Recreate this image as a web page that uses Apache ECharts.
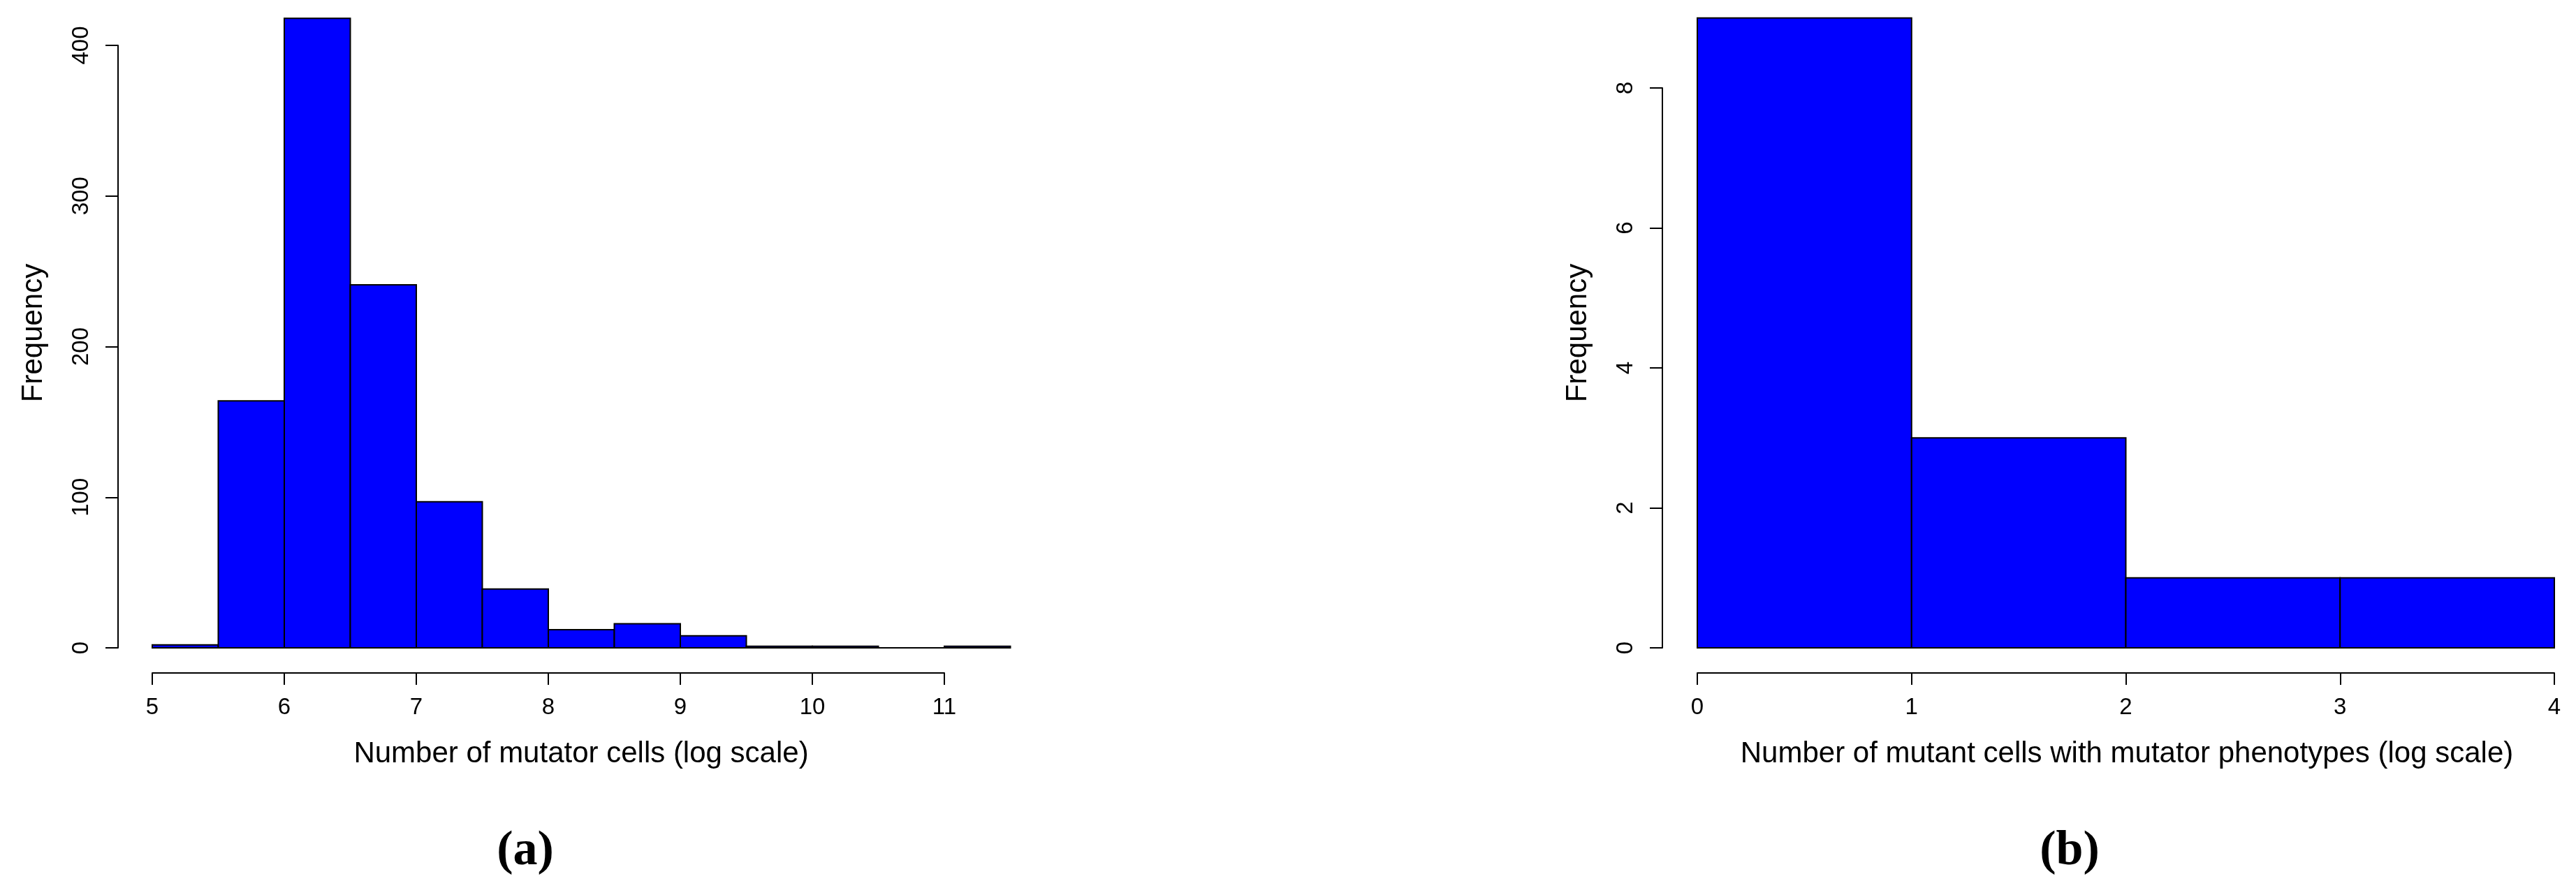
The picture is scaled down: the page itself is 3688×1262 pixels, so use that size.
<!DOCTYPE html>
<html>
<head>
<meta charset="utf-8">
<script src="https://cdn.jsdelivr.net/npm/echarts@6/dist/echarts.min.js"></script>
<style>
html,body{margin:0;padding:0;background:#fff;}
#chart{width:3688px;height:1262px;}
</style>
</head>
<body>
<div id="chart"></div>
<script>
// ---- data ----
var leftBinEdges = [5, 5.5, 6, 6.5, 7, 7.5, 8, 8.5, 9, 9.5, 10, 10.5, 11, 11.5];
var leftCounts = [2, 164, 418, 241, 97, 39, 12, 16, 8, 1, 1, 0, 1];
var leftXTicks = [5, 6, 7, 8, 9, 10, 11];
var leftYTicks = [0, 100, 200, 300, 400];

var rightBinEdges = [0, 1, 2, 3, 4];
var rightCounts = [9, 3, 1, 1];
var rightXTicks = [0, 1, 2, 3, 4];
var rightYTicks = [0, 2, 4, 6, 8];

var leftXLabel = 'Number of mutator cells (log scale)';
var rightXLabel = 'Number of mutant cells with mutator phenotypes (log scale)';
var yLabel = 'Frequency';
var panelLabels = ['(a)', '(b)'];

// ---- helpers ----
function bins(edges, counts) {
  var out = [];
  for (var i = 0; i < counts.length; i++) out.push([edges[i], edges[i + 1], counts[i]]);
  return out;
}
function renderBar(params, api) {
  var p0 = api.coord([api.value(0), api.value(2)]);
  var p1 = api.coord([api.value(1), 0]);
  return {
    type: 'rect',
    shape: { x: p0[0], y: p0[1], width: p1[0] - p0[0], height: p1[1] - p0[1] },
    style: { fill: '#0000ff', stroke: '#000', lineWidth: 2 }
  };
}
var FONT = 'Liberation Sans, Arial, Helvetica, sans-serif';
function xAxisCfg(idx, ticks) {
  return {
    type: 'value', gridIndex: idx,
    min: ticks[0], max: ticks[ticks.length - 1], interval: ticks[1] - ticks[0],
    offset: 36,
    axisLine: { show: true, onZero: false, lineStyle: { color: '#000', width: 2 } },
    axisTick: { show: true, length: 17, lineStyle: { color: '#000', width: 2 } },
    axisLabel: { color: '#000', fontSize: 33, fontFamily: FONT, margin: 50, verticalAlign: 'middle', showMinLabel: true, showMaxLabel: true },
    splitLine: { show: false }
  };
}
function yAxisCfg(idx, ticks, offset) {
  return {
    type: 'value', gridIndex: idx,
    min: ticks[0], max: ticks[ticks.length - 1], interval: ticks[1] - ticks[0],
    offset: offset,
    axisLine: { show: true, onZero: false, lineStyle: { color: '#000', width: 2 } },
    axisTick: { show: true, length: 18, lineStyle: { color: '#000', width: 2 } },
    axisLabel: { color: '#000', fontSize: 33, fontFamily: FONT, rotate: 90, margin: 52, align: 'center', verticalAlign: 'middle', showMinLabel: true, showMaxLabel: true },
    splitLine: { show: false }
  };
}
function txt(str, x, y, size, opts) {
  opts = opts || {};
  return {
    type: 'text', x: x, y: y, rotation: opts.rotation || 0, silent: true,
    style: {
      text: str, fill: '#000', fontSize: size,
      fontFamily: opts.family || FONT, fontWeight: opts.weight || 'normal',
      textAlign: 'center', textVerticalAlign: 'middle'
    }
  };
}

var chart = echarts.init(document.getElementById('chart'), null, { renderer: 'canvas' });
chart.setOption({
  backgroundColor: '#fff',
  animation: false,
  grid: [
    { left: 218, right: 2336, top: 65, bottom: 334, containLabel: false, outerBoundsMode: 'none' },
    { left: 2430, right: 31, top: 126, bottom: 334, containLabel: false, outerBoundsMode: 'none' }
  ],
  xAxis: [xAxisCfg(0, leftXTicks), xAxisCfg(1, rightXTicks)],
  yAxis: [yAxisCfg(0, leftYTicks, 49), yAxisCfg(1, rightYTicks, 50)],
  series: [
    { type: 'custom', xAxisIndex: 0, yAxisIndex: 0, clip: false, renderItem: renderBar, data: bins(leftBinEdges, leftCounts), encode: { x: [0, 1], y: 2 } },
    { type: 'custom', xAxisIndex: 1, yAxisIndex: 1, clip: false, renderItem: renderBar, data: bins(rightBinEdges, rightCounts), encode: { x: [0, 1], y: 2 } }
  ],
  graphic: [
    txt(leftXLabel, 832, 1080, 42),
    txt(rightXLabel, 3045, 1080, 42),
    txt(yLabel, 48, 477, 42, { rotation: Math.PI / 2 }),
    txt(yLabel, 2259, 477, 42, { rotation: Math.PI / 2 }),
    txt(panelLabels[0], 752, 1220, 70, { family: 'Liberation Serif, Times New Roman, serif', weight: 'bold' }),
    txt(panelLabels[1], 2963, 1220, 70, { family: 'Liberation Serif, Times New Roman, serif', weight: 'bold' })
  ]
});
</script>
</body>
</html>
